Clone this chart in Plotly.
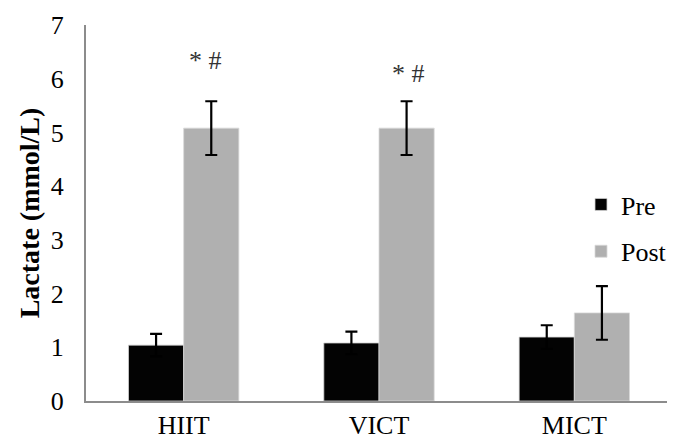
import plotly.graph_objects as go

groups = ["HIIT", "VICT", "MICT"]
pre_vals = [1.04, 1.08, 1.19]
pre_err = [0.21, 0.21, 0.22]
post_vals = [5.08, 5.08, 1.64]
post_err = [0.50, 0.50, 0.50]
marks = ["* #", "* #", ""]

FONT = "Liberation Serif, Times New Roman, serif"

fig = go.Figure()
fig.add_trace(go.Bar(
    x=groups, y=pre_vals, name="Pre",
    marker=dict(color="#030303", line=dict(color="#d0d0d0", width=0.8)),
    error_y=dict(type="data", array=pre_err, visible=True, color="black", thickness=2.2, width=6),
    legendgroup="a",
))
fig.add_trace(go.Bar(
    x=groups, y=post_vals, name="Post",
    marker=dict(color="#b0b0b0", line=dict(color="#d8d8d8", width=0.8)),
    error_y=dict(type="data", array=post_err, visible=True, color="black", thickness=2.2, width=6),
    legendgroup="b",
))

ann_pos = [(0.11, 6.33), (1.15, 6.09)]
for (ax, ay), m in zip(ann_pos, marks):
    if m:
        fig.add_annotation(x=ax, y=ay, xref="x", yref="y", text=m, showarrow=False,
                           font=dict(family=FONT, size=26, color="#333333"))

fig.update_layout(
    width=667, height=435,
    margin=dict(l=78, r=3, t=14, b=39),
    paper_bgcolor="white", plot_bgcolor="white",
    barmode="group", bargap=0.435, bargroupgap=0,
    font=dict(family=FONT, size=26, color="black"),
    showlegend=True,
    legend=dict(x=1.0, y=0.46, xanchor="right", yanchor="middle",
                font=dict(family=FONT, size=26, color="black"),
                tracegroupgap=10, bgcolor="rgba(0,0,0,0)"),
    xaxis=dict(showline=True, linecolor="#8c8c8c", linewidth=2, ticks="",
               tickfont=dict(family=FONT, size=26), showgrid=False, zeroline=False),
    yaxis=dict(range=[0, 7], dtick=1, showline=True, linecolor="#8c8c8c", linewidth=2,
               ticks="", showgrid=False, zeroline=False,
               tickfont=dict(family=FONT, size=26), ticklabelstandoff=15,
               title=dict(text="<b>Lactate (mmol/L)</b>", font=dict(family=FONT, size=28), standoff=3)),
)

fig.write_html("out.html")
